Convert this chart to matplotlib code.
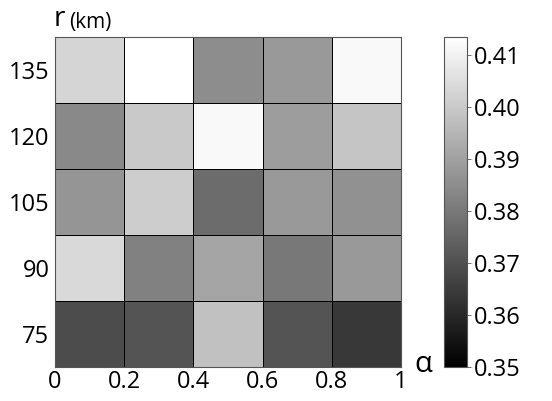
import numpy as np
import matplotlib
matplotlib.use("Agg")
import matplotlib.pyplot as plt

plt.rcParams['font.family'] = ['Open Sans', 'DejaVu Sans']

alpha_edges = [0, 0.2, 0.4, 0.6, 0.8, 1.0]
x_ticks = [0, 0.2, 0.4, 0.6, 0.8, 1]
x_labels = ["0", "0.2", "0.4", "0.6", "0.8", "1"]
r_values = [75, 90, 105, 120, 135]
r_labels = ["75", "90", "105", "120", "135"]

row_75 = [0.369, 0.371, 0.398, 0.371, 0.364]
row_90 = [0.404, 0.382, 0.391, 0.380, 0.388]
row_105 = [0.387, 0.401, 0.377, 0.388, 0.386]
row_120 = [0.384, 0.400, 0.412, 0.389, 0.399]
row_135 = [0.403, 0.4135, 0.385, 0.388, 0.412]

cbar_ticks = [0.35, 0.36, 0.37, 0.38, 0.39, 0.40, 0.41]
cbar_labels = ["0.35", "0.36", "0.37", "0.38", "0.39", "0.40", "0.41"]
vmin, vmax = 0.35, 0.4135

Z = np.array([row_75, row_90, row_105, row_120, row_135])
step = r_values[1] - r_values[0]
r_edges = [r - step / 2 for r in r_values] + [r_values[-1] + step / 2]

fig = plt.figure(figsize=(5.52, 4.01), dpi=100)
ax = fig.add_axes([0.0996, 0.0848, 0.627, 0.823])
mesh = ax.pcolormesh(alpha_edges, r_edges, Z, cmap='gray', vmin=vmin, vmax=vmax,
                     edgecolors='black', linewidth=0.6)
ax.set_xlim(alpha_edges[0], alpha_edges[-1])
ax.set_ylim(r_edges[0], r_edges[-1])
ax.set_xticks(x_ticks)
ax.set_xticklabels(x_labels)
ax.set_yticks(r_values)
ax.set_yticklabels(r_labels)
ax.tick_params(length=0, labelsize=17)
ax.tick_params(axis='x', pad=2)
ax.tick_params(axis='y', pad=4)
for s in ax.spines.values():
    s.set_color('#555555')
    s.set_linewidth(0.8)

fig.text(0.098, 0.917, "r", fontsize=20, ha='left', va='bottom')
fig.text(0.125, 0.917, "(km)", fontsize=15, ha='left', va='bottom')
fig.text(0.767, 0.092, "α", fontsize=21, ha='center', va='center')

cax = fig.add_axes([0.804, 0.0848, 0.042, 0.823])
cb = fig.colorbar(mesh, cax=cax)
cb.set_ticks(cbar_ticks)
cb.set_ticklabels(cbar_labels)
cax.tick_params(length=3, width=0.6, labelsize=17, pad=2, color='#555555')
cb.outline.set_edgecolor('#555555')
cb.outline.set_linewidth(0.8)

fig.savefig("out.png", dpi=100)
